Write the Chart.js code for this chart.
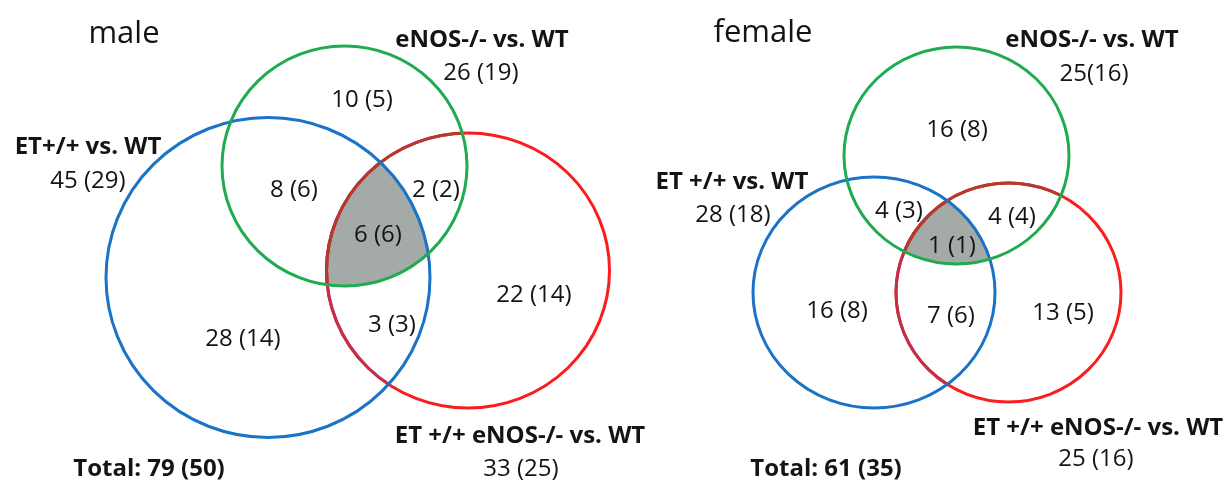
<!DOCTYPE html>
<html>
<head>
<meta charset="utf-8">
<script src="https://cdn.jsdelivr.net/npm/chart.js@4"></script>
<style>
    html, body { margin: 0; padding: 0; background: #fff; }
    #box { width: 1227px; height: 482px; position: relative; }
</style>
</head>
<body>
<div id="box"><canvas id="venn"></canvas></div>
<script>
// Sets: A = ET+/+ vs. WT (blue), B = eNOS-/- vs. WT (green), C = ET+/+ eNOS-/- vs. WT (red)
const panelTitles = ['male', 'female'];
const maleSetNames = ['ET+/+ vs. WT', 'eNOS-/- vs. WT', 'ET +/+ eNOS-/- vs. WT'];
const femaleSetNames = ['ET +/+ vs. WT', 'eNOS-/- vs. WT', 'ET +/+ eNOS-/- vs. WT'];
const maleSetTotals = [45, 26, 33];
const maleSetTotalsSig = [29, 19, 25];
const femaleSetTotals = [28, 25, 25];
const femaleSetTotalsSig = [18, 16, 16];
const femaleSetTotalsSep = [' ', '', ' '];
// regions: A only, B only, C only, AB, AC, BC, ABC
const regionKeys = ['A', 'B', 'C', 'AB', 'AC', 'BC', 'ABC'];
const maleRegions = [28, 10, 22, 8, 3, 2, 6];
const maleRegionsSig = [14, 5, 14, 6, 3, 2, 6];
const femaleRegions = [16, 16, 13, 4, 7, 4, 1];
const femaleRegionsSig = [8, 8, 5, 3, 6, 4, 1];
const grandTotals = [79, 61];
const grandTotalsSig = [50, 35];

// layout (in axis units, axis = picture size)
const circleLayout = [
    [ {x: 268, y: 277.5, rx: 162, ry: 160}, {x: 344.5, y: 166, rx: 122.5, ry: 120}, {x: 468, y: 270.5, rx: 141.5, ry: 137.5} ],
    [ {x: 874, y: 292.5, rx: 121, ry: 115.5}, {x: 956.5, y: 155.5, rx: 112.5, ry: 108.5}, {x: 1008.5, y: 292.5, rx: 112.5, ry: 109.5} ]
];
const regionPos = [
    { A: [243, 346], B: [362, 107], C: [534, 302], AB: [294, 197], AC: [392, 332], BC: [436, 197], ABC: [378, 242] },
    { A: [837, 318], B: [957, 137], C: [1063, 320], AB: [899, 218], AC: [951, 323], BC: [1012, 224], ABC: [952, 253] }
];
const setNamePos = [
    [[88, 154], [482, 47], [520, 443]],
    [[732, 189], [1092, 47], [1098, 435]]
];
const setTotalPos = [
    [[88, 188], [481, 80], [521, 476]],
    [[733, 222], [1094, 81], [1096, 466]]
];
const titlePos = [[124, 43], [763, 42]];
const grandPos = [[149, 476], [826, 476]];

const circleColors = ['#1a73c6', '#1fab50', '#fb1c1c'];
const redUnderGreen = '#b23a2e';
const redUnderBlue = '#c2304a';
const shadeColor = '#a4aaa7';
const textColor = '#141414';

const setNames = [maleSetNames, femaleSetNames];
const setTotals = [maleSetTotals, femaleSetTotals];
const setTotalsSig = [maleSetTotalsSig, femaleSetTotalsSig];
const setTotalsSep = [[' ', ' ', ' '], femaleSetTotalsSep];
const regions = [maleRegions, femaleRegions];
const regionsSig = [maleRegionsSig, femaleRegionsSig];

const vennPlugin = {
    id: 'venn',
    afterDatasetsDraw(chart) {
        const ctx = chart.ctx;
        const xs = chart.scales.x;
        const ys = chart.scales.y;

        function ellipse(c) {
            const px = xs.getPixelForValue(c.x);
            const py = ys.getPixelForValue(c.y);
            const rx = Math.abs(xs.getPixelForValue(c.x + c.rx) - px);
            const ry = Math.abs(ys.getPixelForValue(c.y + c.ry) - py);
            const p = new Path2D();
            p.ellipse(px, py, rx, ry, 0, 0, Math.PI * 2);
            return p;
        }
        function text(str, pos, font) {
            ctx.font = font;
            ctx.fillStyle = textColor;
            ctx.textAlign = 'center';
            ctx.textBaseline = 'alphabetic';
            ctx.fillText(str, xs.getPixelForValue(pos[0]), ys.getPixelForValue(pos[1]));
        }

        chart.data.datasets.forEach((ds, p) => {
            const circles = ds.data.map(ellipse);
            const [blue, green, red] = circles;

            // shaded triple overlap
            ctx.save();
            ctx.clip(blue);
            ctx.clip(green);
            ctx.fillStyle = shadeColor;
            ctx.fill(red);
            ctx.restore();

            ctx.lineWidth = 3;
            // red first, darker where it runs inside the other two
            ctx.strokeStyle = circleColors[2];
            ctx.stroke(red);
            ctx.save();
            ctx.clip(blue);
            ctx.strokeStyle = redUnderBlue;
            ctx.stroke(red);
            ctx.restore();
            ctx.save();
            ctx.clip(green);
            ctx.strokeStyle = redUnderGreen;
            ctx.stroke(red);
            ctx.restore();

            ctx.strokeStyle = circleColors[0];
            ctx.stroke(blue);
            ctx.strokeStyle = circleColors[1];
            ctx.stroke(green);

            // texts
            const reg = "24px 'Open Sans'";
            const bold = "bold 24px 'Open Sans'";
            text(panelTitles[p], titlePos[p], "31px 'Open Sans'");
            regionKeys.forEach((k, i) => {
                text(regions[p][i] + ' (' + regionsSig[p][i] + ')', regionPos[p][k], reg);
            });
            for (let s = 0; s < 3; s++) {
                text(setNames[p][s], setNamePos[p][s], bold);
                text(setTotals[p][s] + setTotalsSep[p][s] + '(' + setTotalsSig[p][s] + ')', setTotalPos[p][s], reg);
            }
            text('Total: ' + grandTotals[p] + ' (' + grandTotalsSig[p] + ')', grandPos[p], bold);
        });
    }
};

const ctx = document.getElementById('venn').getContext('2d');
new Chart(ctx, {
    type: 'scatter',
    data: {
        datasets: panelTitles.map((t, p) => ({
            label: t,
            data: circleLayout[p],
            pointRadius: 0,
            pointHoverRadius: 0
        }))
    },
    options: {
        responsive: true,
        maintainAspectRatio: false,
        animation: false,
        layout: { padding: 0 },
        scales: {
            x: { type: 'linear', min: 0, max: 1227, display: false },
            y: { type: 'linear', min: 0, max: 482, reverse: true, display: false }
        },
        plugins: {
            legend: { display: false },
            tooltip: { enabled: false }
        },
        events: []
    },
    plugins: [vennPlugin]
});
</script>
</body>
</html>
